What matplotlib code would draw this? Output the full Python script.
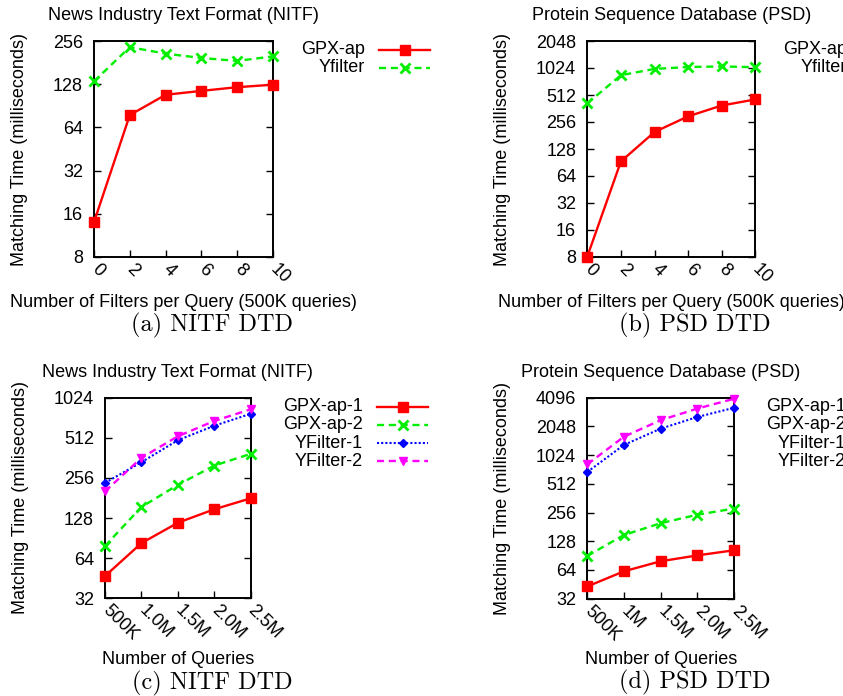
import matplotlib
matplotlib.use("Agg")
import matplotlib.pyplot as plt
from matplotlib.lines import Line2D

plt.rcParams["font.family"] = ["Liberation Sans", "DejaVu Sans"]
plt.rcParams["font.size"] = 13

# ---- data ----
filters = [0, 2, 4, 6, 8, 10]
nitf_gpx = [14, 78, 108, 115, 122, 127]
nitf_yf = [134, 232, 209, 195, 186, 200]
psd_gpx = [8.1, 93, 198, 296, 391, 457]
psd_yf = [413, 851, 1000, 1050, 1066, 1045]

queries = [0.5, 1.0, 1.5, 2.0, 2.5]
nitf_q_labels = ["500K", "1.0M", "1.5M", "2.0M", "2.5M"]
psd_q_labels = ["500K", "1M", "1.5M", "2.0M", "2.5M"]
nitf_gpx1 = [47, 83, 118, 149, 180]
nitf_gpx2 = [79, 155, 227, 317, 388]
nitf_yf1 = [235, 336, 491, 631, 775]
nitf_yf2 = [203, 362, 526, 685, 838]
psd_gpx1 = [43, 62, 79, 91, 103]
psd_gpx2 = [90, 149, 198, 243, 282]
psd_yf1 = [682, 1310, 1940, 2570, 3210]
psd_yf2 = [820, 1600, 2380, 3150, 3990]

W, H = 843, 696

STYLES = {
    "gpx": dict(color="#ff0000", ls="-", marker="s", ms=6.5, lw=1.7),
    "gpx2": dict(color="#00ee00", ls=(0, (3, 2)), marker="x", ms=7, mew=2, lw=1.7),
    "yf1": dict(color="#0000ff", ls=(0, (1, 1)), marker="D", ms=4.5, lw=1.5),
    "yf2": dict(color="#ff00ff", ls=(0, (3, 2)), marker="v", ms=6, lw=1.7),
}


def px_axes(l, t, r, b):
    return [l / W, (H - b) / H, (r - l) / W, (b - t) / H]


def fx(x):
    return x / W


def fy(y):
    return (H - y) / H


def setup_axes(ax, yticks, xticks, xlabels, xlim, title, xlabel):
    ax.set_yscale("log", base=2)
    ax.set_yticks(yticks)
    ax.set_yticklabels([str(v) for v in yticks])
    ax.minorticks_off()
    ax.set_ylim(yticks[0], yticks[-1])
    ax.set_xticks(xticks)
    ax.set_xticklabels(xlabels)
    ax.set_xlim(*xlim)
    ax.tick_params(axis="y", direction="in", length=5, width=1, right=True, pad=8)
    ax.tick_params(axis="x", direction="in", length=5, width=1, top=False, pad=7)
    plt.setp(ax.get_xticklabels(), rotation=-45, ha="left", va="center",
             rotation_mode="anchor")
    for s in ax.spines.values():
        s.set_linewidth(1.4)
    ax.set_title(title, pad=15, fontsize=13)
    ax.set_xlabel(xlabel, labelpad=5)
    ax.set_ylabel("Matching Time (milliseconds)", labelpad=18)


def legend(fig, x_right, y0, dy, entries):
    for k, (label, key) in enumerate(entries):
        y = y0 + k * dy
        fig.text(fx(x_right), fy(y), label, ha="right", va="center", fontsize=13)
        st = dict(STYLES[key])
        ln = Line2D([fx(x_right + 14), fx(x_right + 40), fx(x_right + 65)],
                    [fy(y)] * 3, transform=fig.transFigure, markevery=[1], **st)
        fig.add_artist(ln)


def caption(fig, x, y, text):
    fig.text(fx(x), fy(y), text, family="cmr10", fontsize=17.5,
             ha="center", va="center")


fig = plt.figure(figsize=(W / 100, H / 100), dpi=100)

# (a) NITF, filters
ax = fig.add_axes(px_axes(94, 41, 273, 257))
ax.plot(filters, nitf_gpx, clip_on=False, zorder=3, **STYLES["gpx"])
ax.plot(filters, nitf_yf, clip_on=False, zorder=3, **STYLES["gpx2"])
setup_axes(ax, [8, 16, 32, 64, 128, 256], filters, [str(v) for v in filters], (0, 10),
           "News Industry Text Format (NITF)",
           "Number of Filters per Query (500K queries)")
legend(fig, 365, 50, 17.7, [("GPX-ap", "gpx"), ("Yfilter", "gpx2")])
caption(fig, 212, 325, "(a) NITF DTD")

# (b) PSD, filters
ax = fig.add_axes(px_axes(587.3, 41, 755.3, 257))
ax.plot(filters, psd_gpx, clip_on=False, zorder=3, **STYLES["gpx"])
ax.plot(filters, psd_yf, clip_on=False, zorder=3, **STYLES["gpx2"])
setup_axes(ax, [8, 16, 32, 64, 128, 256, 512, 1024, 2048], filters,
           [str(v) for v in filters], (0, 10),
           "Protein Sequence Database (PSD)",
           "Number of Filters per Query (500K queries)")
legend(fig, 847, 50, 17.7, [("GPX-ap", "gpx"), ("Yfilter", "gpx2")])
caption(fig, 695, 325, "(b) PSD DTD")

# (c) NITF, queries
ax = fig.add_axes(px_axes(105, 397.7, 250.7, 598.3))
ax.plot(queries, nitf_gpx1, clip_on=False, zorder=3, **STYLES["gpx"])
ax.plot(queries, nitf_gpx2, clip_on=False, zorder=3, **STYLES["gpx2"])
ax.plot(queries, nitf_yf1, clip_on=False, zorder=3, **STYLES["yf1"])
ax.plot(queries, nitf_yf2, clip_on=False, zorder=3, **STYLES["yf2"])
setup_axes(ax, [32, 64, 128, 256, 512, 1024], queries, nitf_q_labels, (0.5, 2.5),
           "News Industry Text Format (NITF)", "Number of Queries")
legend(fig, 363, 406.7, 18.2, [("GPX-ap-1", "gpx"), ("GPX-ap-2", "gpx2"),
                               ("YFilter-1", "yf1"), ("YFilter-2", "yf2")])
caption(fig, 212, 683, "(c) NITF DTD")

# (d) PSD, queries
ax = fig.add_axes(px_axes(587.3, 397.7, 734, 598.7))
ax.plot(queries, psd_gpx1, clip_on=False, zorder=3, **STYLES["gpx"])
ax.plot(queries, psd_gpx2, clip_on=False, zorder=3, **STYLES["gpx2"])
ax.plot(queries, psd_yf1, clip_on=False, zorder=3, **STYLES["yf1"])
ax.plot(queries, psd_yf2, clip_on=False, zorder=3, **STYLES["yf2"])
setup_axes(ax, [32, 64, 128, 256, 512, 1024, 2048, 4096], queries, psd_q_labels,
           (0.5, 2.5), "Protein Sequence Database (PSD)", "Number of Queries")
legend(fig, 846, 406.7, 18.2, [("GPX-ap-1", "gpx"), ("GPX-ap-2", "gpx2"),
                               ("YFilter-1", "yf1"), ("YFilter-2", "yf2")])
caption(fig, 695, 682, "(d) PSD DTD")

fig.savefig("out.png", dpi=100)
